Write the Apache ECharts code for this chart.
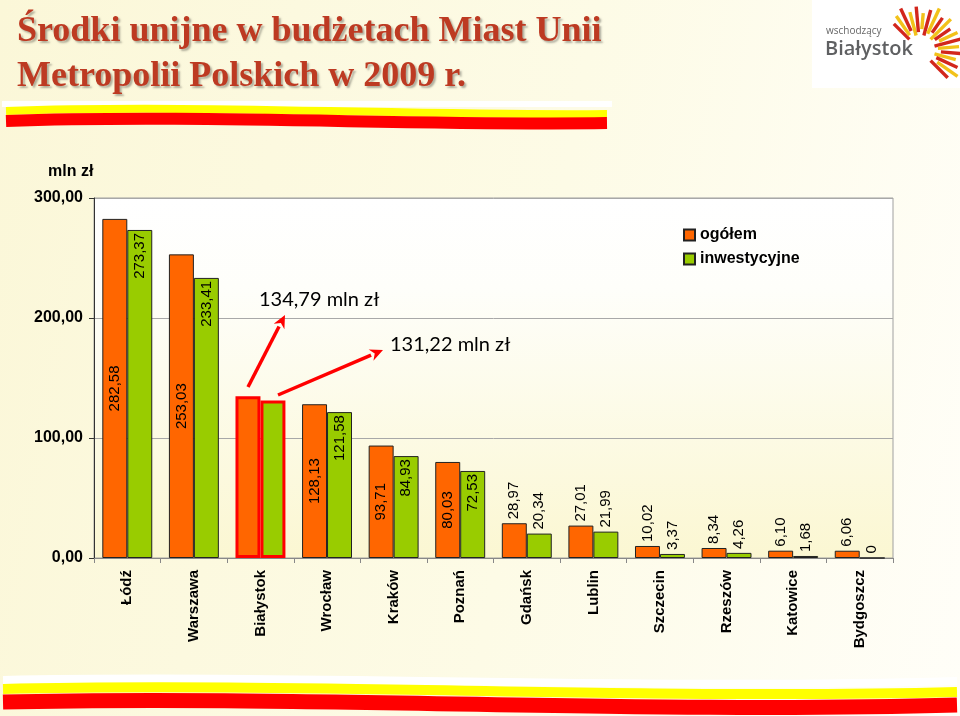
<!DOCTYPE html>
<html>
<head>
<meta charset="utf-8">
<script src="https://cdn.jsdelivr.net/npm/echarts@6/dist/echarts.min.js"></script>
<style>
html,body{margin:0;padding:0;}
body{background:linear-gradient(100deg,#fbf7d8 0%,#fdfbe6 55%,#fffef8 100%);}
#chart{width:960px;height:716px;}
</style>
</head>
<body>
<div id="chart"></div>
<script>
const categories = ['Łódź','Warszawa','Białystok','Wrocław','Kraków','Poznań','Gdańsk','Lublin','Szczecin','Rzeszów','Katowice','Bydgoszcz'];
const ogolem = [282.58, 253.03, 134.79, 128.13, 93.71, 80.03, 28.97, 27.01, 10.02, 8.34, 6.10, 6.06];
const inwestycyjne = [273.37, 233.41, 131.22, 121.58, 84.93, 72.53, 20.34, 21.99, 3.37, 4.26, 1.68, 0];
const yTicks = [0, 100, 200, 300];
const seriesNames = ['ogółem', 'inwestycyjne'];
const highlightCity = 'Białystok';
const annotations = ['134,79 mln zł', '131,22 mln zł'];
const titleLines = ['Środki unijne w budżetach Miast Unii', 'Metropolii Polskich w 2009 r.'];

const fmt = v => v === 0 ? '0' : v.toFixed(2).replace('.', ',');
const LBL = {fontFamily: 'Liberation Sans, Arial, sans-serif', fontSize: 15, color: '#000'};

function mkData(values, bigPos) {
  return values.map((v, i) => {
    const d = {value: v};
    if (categories[i] === highlightCity) {
      d.itemStyle = {borderColor: '#ff0000', borderWidth: 3};
      d.label = {show: false};
    } else if (v > 50) {
      if (bigPos === 'inside') {
        d.label = {show: true, position: 'inside', rotate: 90, align: 'center', verticalAlign: 'middle'};
      } else {
        d.label = {show: true, position: 'insideTop', rotate: 90, align: 'right', verticalAlign: 'middle', distance: 3};
      }
    } else {
      d.label = {show: true, position: 'top', rotate: 90, align: 'left', verticalAlign: 'middle', distance: 4};
    }
    return d;
  });
}

function arrow(x1, y1, x2, y2) {
  const ang = Math.atan2(y2 - y1, x2 - x1);
  const L = 13, W = 6;
  const bx = x2 - L * Math.cos(ang), by = y2 - L * Math.sin(ang);
  const nx = -Math.sin(ang), ny = Math.cos(ang);
  return [
    {type: 'line', shape: {x1: x1, y1: y1, x2: bx, y2: by}, style: {stroke: '#ff0000', lineWidth: 3.5}, z: 100},
    {type: 'polygon', shape: {points: [[x2, y2], [bx + nx * W, by + ny * W], [bx + 4*Math.cos(ang) , by + 4*Math.sin(ang)], [bx - nx * W, by - ny * W]]}, style: {fill: '#ff0000'}, z: 100}
  ];
}

// logo rays (decoration)
function logoRays() {
  const cx = 920, cy = 50;
  const out = [];
  const n = 19;
  for (let k = 0; k < n; k++) {
    const a = (135 - k * (180 / (n - 1))) * Math.PI / 180;
    const r1 = 15 + (k % 3) * 3, r2 = 37 + ((k * 7) % 5) * 2.2;
    out.push({
      type: 'line',
      shape: {x1: cx + r1 * Math.cos(a), y1: cy - r1 * Math.sin(a), x2: cx + r2 * Math.cos(a), y2: cy - r2 * Math.sin(a)},
      style: {stroke: k % 2 ? '#f2c21a' : '#d2261c', lineWidth: 3.4, lineCap: 'butt'},
      z: 50
    });
  }
  return out;
}

const chart = echarts.init(document.getElementById('chart'));
const titleFont = 'bold 36px "Liberation Serif", "Times New Roman", serif';
const graphics = [
  {type: 'text', left: 17, top: 14, style: {text: titleLines[0], font: titleFont, fill: '#bd3a22', textShadowColor: 'rgba(0,0,0,0.3)', textShadowOffsetX: 2, textShadowOffsetY: 2, textShadowBlur: 2}, z: 50},
  {type: 'text', left: 17, top: 59, style: {text: titleLines[1], font: titleFont, fill: '#bd3a22', textShadowColor: 'rgba(0,0,0,0.3)', textShadowOffsetX: 2, textShadowOffsetY: 2, textShadowBlur: 2}, z: 50},
  {type: 'rect', shape: {x: 2, y: 101, width: 610, height: 6}, style: {fill: '#ffffff'}, z: 40},
  {type: 'bezierCurve', shape: {x1: 6, y1: 111, x2: 607, y2: 114, cpx1: 200, cpy1: 104, cpx2: 420, cpy2: 116}, style: {stroke: '#ffff00', lineWidth: 8, fill: null}, z: 41},
  {type: 'bezierCurve', shape: {x1: 6, y1: 121, x2: 607, y2: 123, cpx1: 200, cpy1: 114, cpx2: 420, cpy2: 126}, style: {stroke: '#ff0000', lineWidth: 12, fill: null}, z: 42},
  {type: 'bezierCurve', shape: {x1: 3, y1: 680, x2: 957, y2: 681, cpx1: 300, cpy1: 674, cpx2: 650, cpy2: 690}, style: {stroke: '#ffffff', lineWidth: 8, fill: null}, z: 40},
  {type: 'bezierCurve', shape: {x1: 3, y1: 689, x2: 957, y2: 692, cpx1: 300, cpy1: 682, cpx2: 650, cpy2: 700}, style: {stroke: '#ffff00', lineWidth: 10, fill: null}, z: 41},
  {type: 'bezierCurve', shape: {x1: 3, y1: 702, x2: 957, y2: 705, cpx1: 300, cpy1: 695, cpx2: 650, cpy2: 714}, style: {stroke: '#ff0000', lineWidth: 15, fill: null}, z: 42},
  {type: 'rect', shape: {x: 812, y: 0, width: 148, height: 88}, style: {fill: '#ffffff'}, z: 45},
  {type: 'text', left: 826, top: 26, style: {text: 'wschodzący', font: '10px "Open Sans", sans-serif', fill: '#666'}, z: 50},
  {type: 'text', left: 825, top: 39, style: {text: 'Białystok', font: '600 20px "Open Sans", sans-serif', fill: '#5f6062'}, z: 50},
  ...logoRays(),
  {type: 'text', left: 48, top: 164, style: {text: 'mln zł', font: 'bold 16px "Liberation Sans", Arial, sans-serif', fill: '#000'}, z: 50},
  ...arrow(248, 387, 285, 315),
  ...arrow(278, 395, 383, 350),
  {type: 'text', left: 259, top: 290, style: {text: annotations[0], font: '20px Lato, "Open Sans", sans-serif', fill: '#000'}, z: 50},
  {type: 'text', left: 390, top: 335, style: {text: annotations[1], font: '20px Lato, "Open Sans", sans-serif', fill: '#000'}, z: 50}
];

chart.setOption({
  animation: false,
  backgroundColor: 'transparent',
  grid: {
    left: 94, top: 198, right: 67, bottom: 158, show: true,
    borderColor: '#a0a0a0', borderWidth: 1,
    backgroundColor: new echarts.graphic.LinearGradient(0, 0, 0, 1, [
      {offset: 0, color: '#ffffff'}, {offset: 0.25, color: '#fefefa'}, {offset: 1, color: '#fbf7d2'}
    ])
  },
  legend: {
    orient: 'vertical', left: 678, top: 222, itemWidth: 11, itemHeight: 11, itemGap: 8,
    icon: 'rect',
    textStyle: {fontFamily: 'Liberation Sans, Arial, sans-serif', fontSize: 16, fontWeight: 'bold', color: '#000'},
    data: seriesNames
  },
  xAxis: {
    type: 'category', data: categories,
    axisLine: {lineStyle: {color: '#888', width: 1}},
    axisTick: {show: true, length: 5, lineStyle: {color: '#888'}},
    axisLabel: {rotate: 90, margin: 12, interval: 0, fontFamily: 'Liberation Sans, Arial, sans-serif', fontSize: 15, fontWeight: 'bold', color: '#000'}
  },
  yAxis: {
    type: 'value', min: yTicks[0], max: yTicks[yTicks.length - 1], interval: 100,
    axisLine: {show: true, lineStyle: {color: '#333', width: 1}},
    axisTick: {show: true, length: 5, lineStyle: {color: '#333'}},
    axisLabel: {margin: 11, formatter: v => v.toFixed(2).replace('.', ','), fontFamily: 'Liberation Sans, Arial, sans-serif', fontSize: 16, fontWeight: 'bold', color: '#000'},
    splitLine: {lineStyle: {color: '#a8a8a8', width: 1}}
  },
  series: [
    {
      name: seriesNames[0], type: 'bar', data: mkData(ogolem, 'inside'),
      barGap: '0%', barCategoryGap: '25%',
      itemStyle: {color: '#ff6600', borderColor: '#222', borderWidth: 1},
      label: Object.assign({show: true, formatter: p => fmt(p.value)}, LBL)
    },
    {
      name: seriesNames[1], type: 'bar', data: mkData(inwestycyjne, 'insideTop'),
      itemStyle: {color: '#99cc00', borderColor: '#222', borderWidth: 1},
      label: Object.assign({show: true, formatter: p => fmt(p.value)}, LBL)
    }
  ],
  graphic: graphics
});
</script>
</body>
</html>
